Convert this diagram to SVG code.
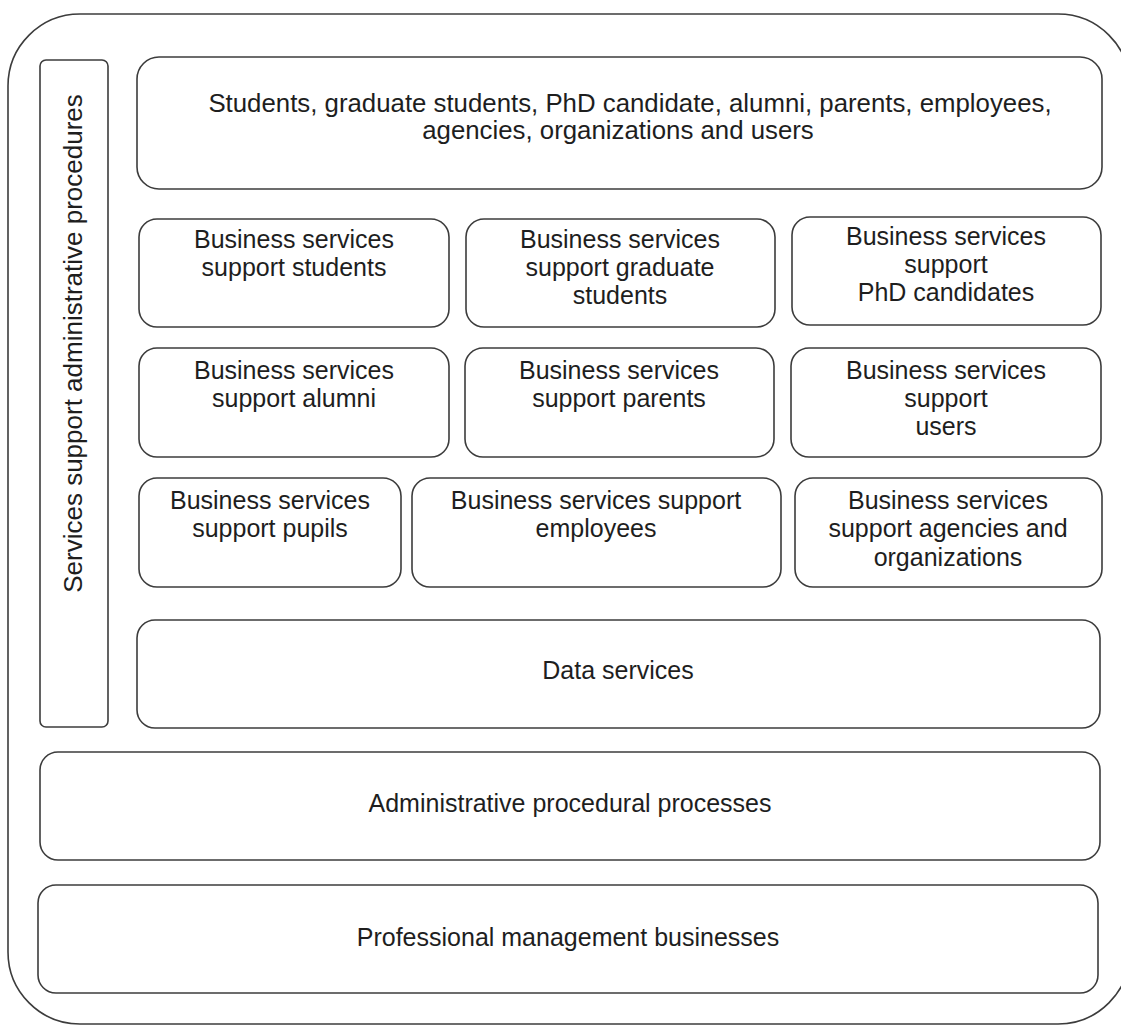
<svg xmlns="http://www.w3.org/2000/svg" width="1121" height="1026" viewBox="0 0 1121 1026">
<style>
.b{fill:#fff;stroke:#3c3c3c;stroke-width:1.6}
.t{font-family:"Liberation Sans",Arial,sans-serif;font-size:25px;fill:#1e1e1e;text-anchor:middle}
</style>
<rect width="1121" height="1026" fill="#fff"/>
<g id="outer"><rect class="b" x="8" y="14" width="1122" height="1010" rx="72"/></g>
<g id="side">
<rect class="b" x="40" y="60" width="68" height="667" rx="6"/>
<text class="t" transform="translate(82,343.5) rotate(-90)" x="0" y="0" style="font-size:26px">Services support administrative procedures</text>
</g>
<g id="users">
<rect class="b" x="137" y="57" width="965" height="132" rx="22"/>
<text class="t" x="630" y="112" style="font-size:25.8px">Students, graduate students, PhD candidate, alumni, parents, employees,</text>
<text class="t" x="618" y="139" style="font-size:25.8px">agencies, organizations and users</text>
</g>
<g id="bs-students">
<rect class="b" x="139" y="219" width="310" height="108" rx="18"/>
<text class="t" x="294" y="248">Business services</text>
<text class="t" x="294" y="276">support students</text>
</g>
<g id="bs-graduate">
<rect class="b" x="466" y="219" width="309" height="108" rx="18"/>
<text class="t" x="620" y="248">Business services</text>
<text class="t" x="620" y="276">support graduate</text>
<text class="t" x="620" y="304">students</text>
</g>
<g id="bs-phd">
<rect class="b" x="792" y="217" width="309" height="108" rx="18"/>
<text class="t" x="946" y="245">Business services</text>
<text class="t" x="946" y="273">support</text>
<text class="t" x="946" y="301">PhD candidates</text>
</g>
<g id="bs-alumni">
<rect class="b" x="139" y="348" width="310" height="109" rx="18"/>
<text class="t" x="294" y="379">Business services</text>
<text class="t" x="294" y="407">support alumni</text>
</g>
<g id="bs-parents">
<rect class="b" x="465" y="348" width="309" height="109" rx="18"/>
<text class="t" x="619" y="379">Business services</text>
<text class="t" x="619" y="407">support parents</text>
</g>
<g id="bs-users">
<rect class="b" x="791" y="348" width="310" height="109" rx="18"/>
<text class="t" x="946" y="379">Business services</text>
<text class="t" x="946" y="407">support</text>
<text class="t" x="946" y="435">users</text>
</g>
<g id="bs-pupils">
<rect class="b" x="139" y="478" width="262" height="109" rx="18"/>
<text class="t" x="270" y="509">Business services</text>
<text class="t" x="270" y="537">support pupils</text>
</g>
<g id="bs-employees">
<rect class="b" x="412" y="478" width="369" height="109" rx="18"/>
<text class="t" x="596" y="509">Business services support</text>
<text class="t" x="596" y="537">employees</text>
</g>
<g id="bs-agencies">
<rect class="b" x="795" y="478" width="307" height="109" rx="18"/>
<text class="t" x="948" y="509">Business services</text>
<text class="t" x="948" y="537">support agencies and</text>
<text class="t" x="948" y="566">organizations</text>
</g>
<g id="data">
<rect class="b" x="137" y="620" width="963" height="108" rx="18"/>
<text class="t" x="618" y="679">Data services</text>
</g>
<g id="admin">
<rect class="b" x="40" y="752" width="1060" height="108" rx="18"/>
<text class="t" x="570" y="812">Administrative procedural processes</text>
</g>
<g id="prof">
<rect class="b" x="38" y="885" width="1060" height="108" rx="18"/>
<text class="t" x="568" y="946">Professional management businesses</text>
</g>
<g id="connectors"/>
</svg>
